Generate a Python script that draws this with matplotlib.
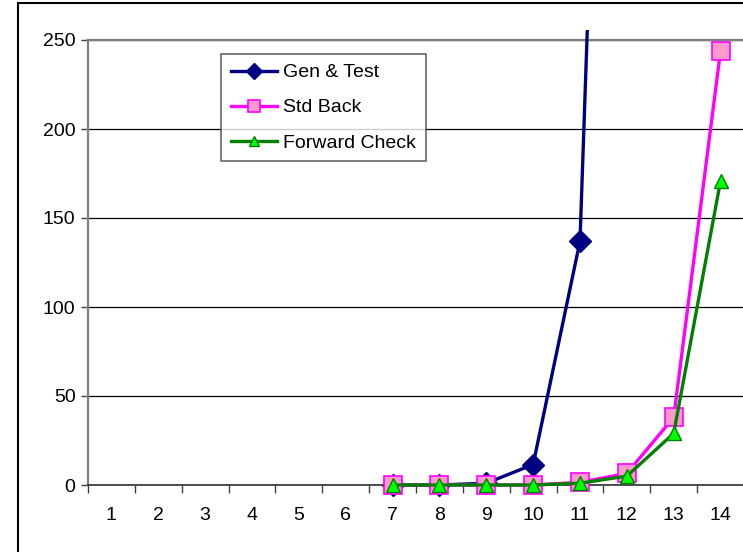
import matplotlib
matplotlib.use("Agg")
import matplotlib.pyplot as plt
import numpy as np
from matplotlib.patches import Rectangle

plt.rcParams["font.family"] = ["Liberation Sans", "DejaVu Sans"]

categories = list(range(1, 15))
nan = np.nan
gen_test = [nan, nan, nan, nan, nan, nan, 0, 0, 1, 11.5, 137, 900, nan, nan]
std_back = [nan, nan, nan, nan, nan, nan, 0, 0, 0, 0, 1.5, 6.5, 38, 244]
forward_check = [nan, nan, nan, nan, nan, nan, 0, 0, 0, 0, 1, 5, 29, 171]
y_ticks = [0, 50, 100, 150, 200, 250]

W, H = 743, 552
fig = plt.figure(figsize=(W / 100, H / 100), dpi=100)
ax = fig.add_axes([88 / W, 1 - 485 / H, (W - 88 + 1) / W, (485 - 40) / H])

x = np.array(categories, dtype=float)
lines = []
lines += ax.plot(x, gen_test, color="#000080", lw=2.4, marker="D", ms=11.5,
                 mfc="#000080", mec="#000080", label="Gen & Test", zorder=3)
lines += ax.plot(x, std_back, color="#FF00FF", lw=2.4, marker="s", ms=12.5,
                 mfc="#FF99CC", mec="#FF00FF", mew=1.2, label="Std Back", zorder=4)
lines += ax.plot(x, forward_check, color="#008000", lw=2.4, marker="^", ms=10.5,
                 mfc="#00FF00", mec="#008000", mew=1.0, label="Forward Check", zorder=5)

# lines may poke a little above the plot area, like the original
clip = Rectangle((0, -0.05), 1.0, 1.0225 + 0.05, transform=ax.transAxes,
                 fill=False, visible=False)
fig.add_artist(clip)
for ln in lines:
    ln.set_clip_path(clip)

ax.set_xlim(0.5, 14.5)
ax.set_ylim(0, 250)
ax.set_yticks(y_ticks)
ax.set_yticklabels([str(v) for v in y_ticks], fontsize=14)
ax.yaxis.grid(True, color="black", lw=0.9)
ax.set_axisbelow(True)

ax.set_xticks(np.arange(0.5, 15.0, 1.0))
ax.set_xticklabels([])
ax.set_xticks(x, minor=True)
ax.set_xticklabels([str(c) for c in categories], minor=True, fontsize=14)
ax.tick_params(axis="x", which="major", direction="out", length=6, width=1, color="#404040")
ax.tick_params(axis="x", which="minor", length=0, pad=15.5)
ax.tick_params(axis="y", direction="out", length=5, width=1, color="#404040", pad=4)

for side in ["top", "left", "right"]:
    ax.spines[side].set_color("#808080")
    ax.spines[side].set_linewidth(1.6)
ax.spines["bottom"].set_color("#303030")
ax.spines["bottom"].set_linewidth(1.2)

leg = fig.legend(handles=lines, loc="upper left", bbox_to_anchor=(221 / W, 1 - 54 / H),
                 fontsize=14, frameon=True, fancybox=False, handlelength=2.4,
                 handletextpad=0.3, labelspacing=0.9, borderpad=0.5,
                 borderaxespad=0, markerscale=0.7)
leg.get_frame().set_edgecolor("#404040")
leg.get_frame().set_linewidth(1.2)

fig.add_artist(Rectangle((18 / W, -0.1), 1.0, 1.1 - 2.5 / H, transform=fig.transFigure,
                         fill=False, ec="black", lw=1.5))

fig.savefig("out.png", dpi=100)
